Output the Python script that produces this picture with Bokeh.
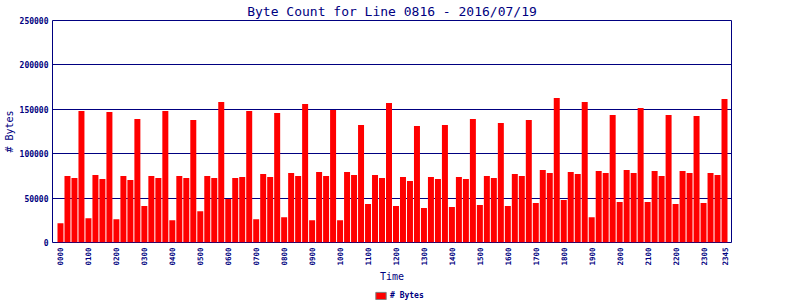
from bokeh.plotting import figure
from bokeh.layouts import column
from bokeh.models import (ColumnDataSource, FixedTicker, BasicTickFormatter, Legend,
                          LegendItem, Range1d)
from bokeh.embed import file_html
from bokeh.resources import INLINE
import math

# 15-minute intervals of the day
times = [
    "0000", "0015", "0030", "0045", "0100", "0115", "0130", "0145",
    "0200", "0215", "0230", "0245", "0300", "0315", "0330", "0345",
    "0400", "0415", "0430", "0445", "0500", "0515", "0530", "0545",
    "0600", "0615", "0630", "0645", "0700", "0715", "0730", "0745",
    "0800", "0815", "0830", "0845", "0900", "0915", "0930", "0945",
    "1000", "1015", "1030", "1045", "1100", "1115", "1130", "1145",
    "1200", "1215", "1230", "1245", "1300", "1315", "1330", "1345",
    "1400", "1415", "1430", "1445", "1500", "1515", "1530", "1545",
    "1600", "1615", "1630", "1645", "1700", "1715", "1730", "1745",
    "1800", "1815", "1830", "1845", "1900", "1915", "1930", "1945",
    "2000", "2015", "2030", "2045", "2100", "2115", "2130", "2145",
    "2200", "2215", "2230", "2245", "2300", "2315", "2330", "2345",
]

byte_counts = [
    21800, 74800, 72550, 148100, 27440, 75930, 71420, 146980,
    26310, 74800, 70290, 139080, 40970, 74800, 72550, 148100,
    25190, 74800, 72550, 137960, 35330, 74800, 72550, 158250,
    48870, 72550, 73680, 148100, 26310, 77060, 73680, 145850,
    28570, 78190, 74800, 156000, 25190, 79310, 74800, 149230,
    25190, 79310, 75930, 132320, 43230, 75930, 72550, 157130,
    40970, 73680, 69170, 131190, 38720, 73680, 71420, 132320,
    39850, 73680, 71420, 139080, 42100, 74800, 72550, 134570,
    40970, 77060, 74800, 137960, 44360, 81570, 78190, 162760,
    47740, 79310, 77060, 158250, 28570, 80440, 78190, 143590,
    45480, 81570, 78190, 151490, 45480, 80440, 74800, 143590,
    43230, 80440, 78190, 142460, 44360, 78190, 75930, 161640,
]

tick_labels = [
    "0000", "0100", "0200", "0300", "0400", "0500", "0600", "0700",
    "0800", "0900", "1000", "1100", "1200", "1300", "1400", "1500",
    "1600", "1700", "1800", "1900", "2000", "2100", "2200", "2300", "2345",
]

y_ticks = [0, 50000, 100000, 150000, 200000, 250000]

NAVY = "#000080"
MONO = "DejaVu Sans Mono"

idx = list(range(len(times)))
src = ColumnDataSource(dict(x=idx, time=times, bytes=byte_counts))
tick_pos = [times.index(t) for t in tick_labels]

p = figure(width=800, height=291, output_backend="svg", toolbar_location=None,
           x_range=Range1d(-8 / 7, len(times)), y_range=Range1d(0, 250000),
           min_border_left=51, min_border_right=69, min_border_top=20,
           min_border_bottom=49)

p.title.text = "Byte Count for Line 0816 - 2016/07/19"
p.title.align = "center"
p.title.text_font = MONO
p.title.text_font_size = "13px"
p.title.text_font_style = "normal"
p.title.text_color = NAVY
p.title.standoff = 3

p.outline_line_color = NAVY
p.outline_line_width = 1
p.background_fill_color = "white"
p.border_fill_color = "white"

p.vbar(x="x", top="bytes", source=src, width=6 / 7, fill_color="#FF0000",
       line_color=None)

p.xgrid.visible = False
p.ygrid.grid_line_color = NAVY
p.ygrid.grid_line_width = 1
p.ygrid.ticker = FixedTicker(ticks=y_ticks)

# y axis
ya = p.yaxis[0]
ya.ticker = FixedTicker(ticks=y_ticks)
ya.formatter = BasicTickFormatter(use_scientific=False)
ya.axis_line_color = None
ya.major_tick_line_color = None
ya.minor_tick_line_color = None
ya.major_tick_out = 0
ya.major_tick_in = 0
ya.minor_tick_out = 0
ya.minor_tick_in = 0
ya.major_label_text_font = MONO
ya.major_label_text_font_size = "8px"
ya.major_label_text_font_style = "bold"
ya.major_label_text_color = NAVY
ya.major_label_standoff = 4
ya.axis_label = "# Bytes"
ya.axis_label_text_font = MONO
ya.axis_label_text_font_size = "10px"
ya.axis_label_text_font_style = "normal"
ya.axis_label_text_color = NAVY
ya.axis_label_standoff = 2

# x axis
xa = p.xaxis[0]
xa.ticker = FixedTicker(ticks=tick_pos)
xa.major_label_overrides = {pos: lab for pos, lab in zip(tick_pos, tick_labels)}
xa.major_label_orientation = math.pi / 2
xa.axis_line_color = None
xa.major_tick_line_color = None
xa.minor_tick_line_color = None
xa.major_tick_out = 0
xa.major_tick_in = 0
xa.minor_tick_out = 0
xa.minor_tick_in = 0
xa.major_label_text_font = MONO
xa.major_label_text_font_size = "7.5px"
xa.major_label_text_font_style = "bold"
xa.major_label_text_color = NAVY
xa.major_label_standoff = 5
xa.axis_label = "Time"
xa.axis_label_text_font = MONO
xa.axis_label_text_font_size = "10px"
xa.axis_label_text_font_style = "normal"
xa.axis_label_text_color = NAVY
xa.axis_label_standoff = 2

# legend strip below the chart
lg = figure(width=800, height=9, output_backend="svg", toolbar_location=None,
            x_axis_type=None, y_axis_type=None, x_range=Range1d(0, 1),
            y_range=Range1d(0, 1), min_border=0, outline_line_color=None)
lg.xgrid.visible = False
lg.ygrid.visible = False
lg.background_fill_color = "white"
lg.border_fill_color = "white"
legend_r = lg.vbar(x="x", top="bytes", source=src, width=6 / 7, fill_color="#FF0000",
                   line_color="#808080", visible=False)
legend = Legend(items=[LegendItem(label="# Bytes", renderers=[legend_r])],
                location=(322, 0), orientation="horizontal", padding=0, margin=0,
                border_line_color=None, background_fill_alpha=0,
                glyph_width=13, glyph_height=9, label_standoff=3,
                label_text_font=MONO, label_text_font_size="8px",
                label_text_font_style="bold", label_text_color=NAVY,
                label_height=9, inactive_fill_alpha=0)
lg.add_layout(legend)

layout = column(p, lg, spacing=0)
open("out.html", "w").write(file_html(layout, INLINE))
